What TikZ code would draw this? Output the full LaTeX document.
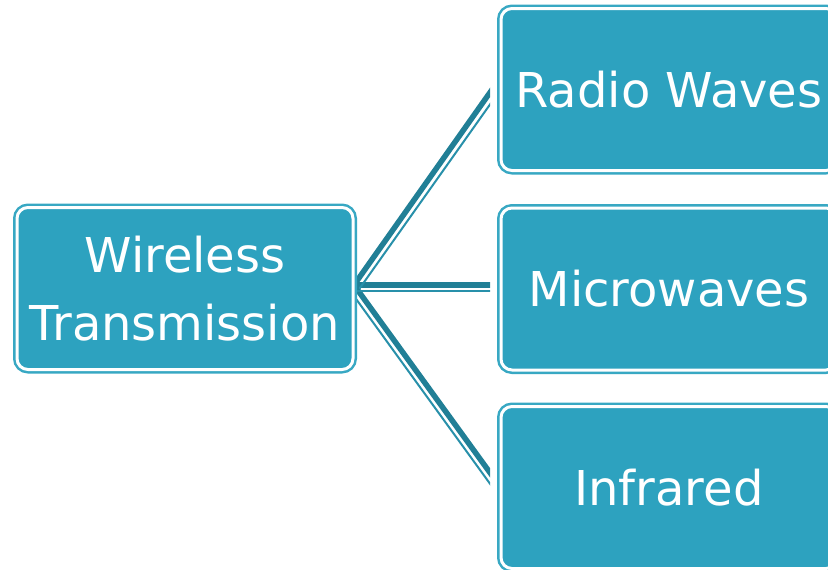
\documentclass[tikz,border=0pt]{standalone}
\usepackage{fontspec}
\setmainfont{DejaVu Sans}
\definecolor{boxfill}{HTML}{2DA2BF}
\definecolor{boxline}{HTML}{38A8C3}
\definecolor{conn}{HTML}{217F96}
\definecolor{connlight}{HTML}{2890AA}
\begin{document}
\begin{tikzpicture}[x=1pt,y=-1pt,
  boxst/.style={rounded corners=11pt, fill=boxfill, draw=white, line width=3pt,
    preaction={draw=boxline, line width=8pt},
    text=white, align=center, inner sep=0pt,
    minimum width=336pt, minimum height=162pt,
    font=\fontsize{48}{68}\selectfont},
  thickconn/.style={draw=conn, line width=5.5pt},
  thinconn/.style={draw=connlight, line width=2pt}]
\useasboundingbox (0,0) rectangle (828,570);
\clip (0,0) rectangle (828,570);
% connector end points
\coordinate (hub) at (354,285);
\coordinate (e1) at (496,84);
\coordinate (e2) at (496,285);
\coordinate (e3) at (496,481);
\coordinate (hubA) at (359.4,288.7);
\coordinate (f1) at (496,96);
\coordinate (hubB) at (355,291);
\coordinate (f2) at (496,291);
\coordinate (hubC) at (348.7,288.8);
\coordinate (f3) at (496,492);
\begin{scope}
  \clip (0,0) rectangle (490,570);
  \draw[thickconn] (hub) -- (e1);
  \draw[thickconn] (hub) -- (e2);
  \draw[thickconn] (hub) -- (e3);
  \draw[thinconn] (hubA) -- (f1);
  \draw[thinconn] (hubB) -- (f2);
  \draw[thinconn] (hubC) -- (f3);
\end{scope}
\node[boxst] (wt) at (185,288.5) {Wireless\\Transmission};
\node[boxst] (rw) at (669,89.5) {Radio Waves};
\node[boxst] (mw) at (669,289) {Microwaves};
\node[boxst] (ir) at (669,487.5) {Infrared};
\end{tikzpicture}
\end{document}
